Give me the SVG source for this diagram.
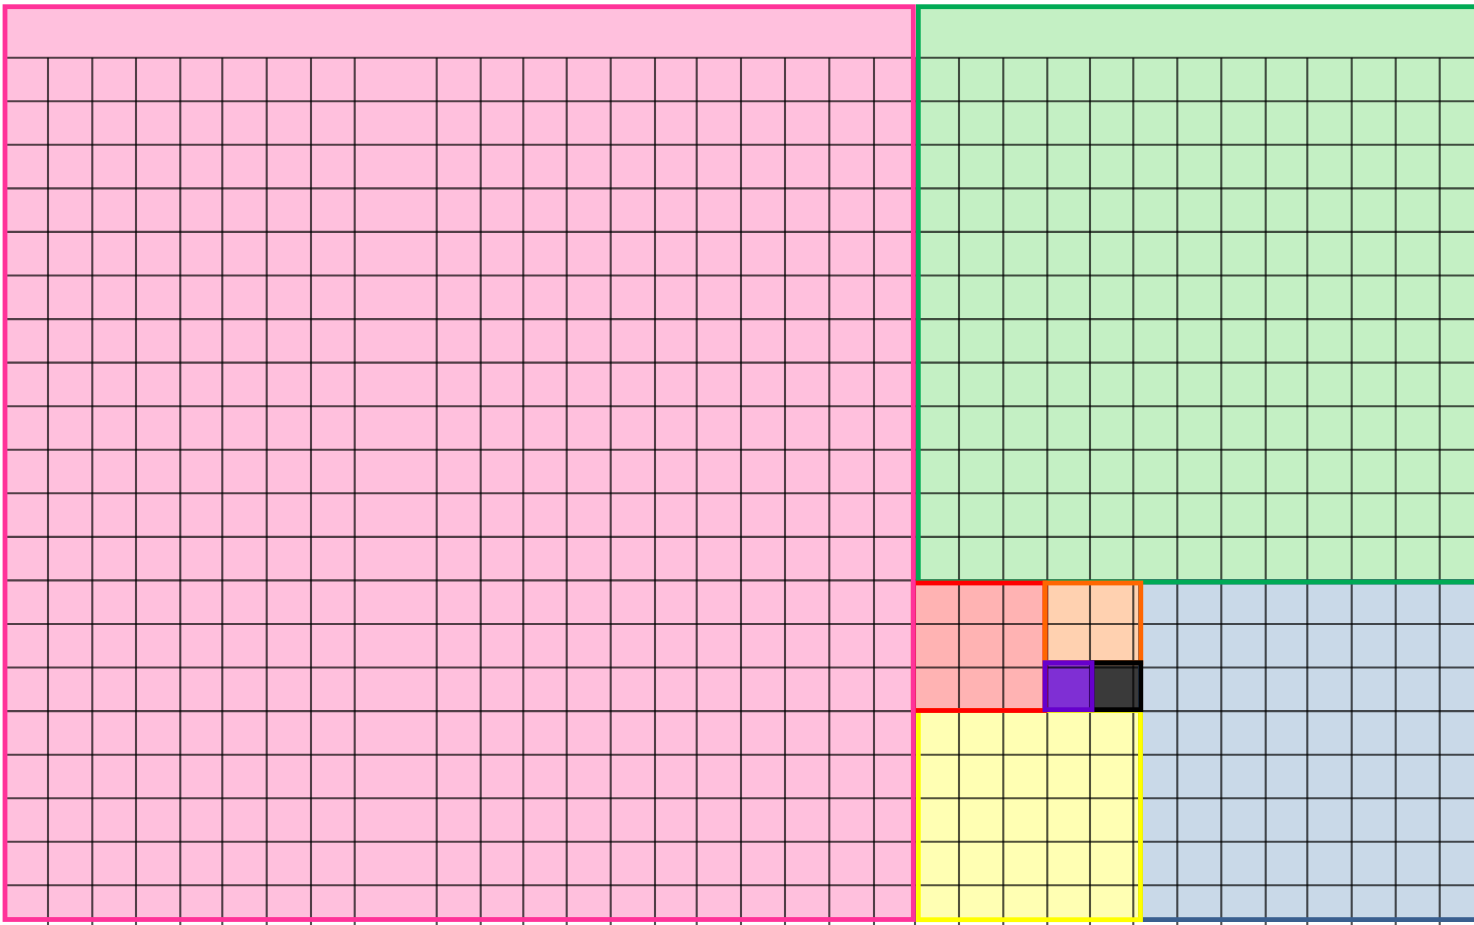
<svg xmlns="http://www.w3.org/2000/svg" width="1474" height="925" viewBox="0 0 1474 925">
<style>
.grid line{stroke:#000;stroke-opacity:0.68;stroke-width:2.1}
.outline{fill:none;stroke-width:4.8}
</style>
<rect width="1474" height="925" fill="#ffffff"/>
<g id="square-21"><rect x="5" y="6.7" width="908.3" height="912.8" fill="#ffc0dd"/></g>
<g id="square-13"><rect x="918.3" y="6.7" width="600" height="575.3" fill="#c4f0c4"/></g>
<g id="square-8"><rect x="1140.5" y="582" width="400" height="337.6" fill="#c9d9e8"/></g>
<g id="square-5"><rect x="918.3" y="710.5" width="222.2" height="209.2" fill="#ffffb3"/></g>
<g id="square-3"><rect x="913.3" y="583" width="131.7" height="127.5" fill="#ffb3b3"/></g>
<g id="square-2"><rect x="1045" y="583" width="95.8" height="79.7" fill="#ffd1b0"/></g>
<g id="square-1b"><rect x="1092" y="662.7" width="48.8" height="47" fill="#3a3a3a"/></g>
<g id="square-1a"><rect x="1045" y="662.7" width="47" height="47" fill="#7f2fd4"/></g>
<g id="connectors" class="grid">
<line x1="48" y1="57.7" x2="48" y2="925"/>
<line x1="92.3" y1="57.7" x2="92.3" y2="925"/>
<line x1="136" y1="57.7" x2="136" y2="925"/>
<line x1="180.3" y1="57.7" x2="180.3" y2="925"/>
<line x1="222.3" y1="57.7" x2="222.3" y2="925"/>
<line x1="266.7" y1="57.7" x2="266.7" y2="925"/>
<line x1="311" y1="57.7" x2="311" y2="925"/>
<line x1="354.7" y1="57.7" x2="354.7" y2="925"/>
<line x1="436.7" y1="57.7" x2="436.7" y2="925"/>
<line x1="480.7" y1="57.7" x2="480.7" y2="925"/>
<line x1="523.3" y1="57.7" x2="523.3" y2="925"/>
<line x1="566.7" y1="57.7" x2="566.7" y2="925"/>
<line x1="610.7" y1="57.7" x2="610.7" y2="925"/>
<line x1="655" y1="57.7" x2="655" y2="925"/>
<line x1="696.7" y1="57.7" x2="696.7" y2="925"/>
<line x1="741" y1="57.7" x2="741" y2="925"/>
<line x1="785" y1="57.7" x2="785" y2="925"/>
<line x1="829.3" y1="57.7" x2="829.3" y2="925"/>
<line x1="874" y1="57.7" x2="874" y2="925"/>
<line x1="915" y1="57.7" x2="915" y2="925"/>
<line x1="959" y1="57.7" x2="959" y2="925"/>
<line x1="1003.3" y1="57.7" x2="1003.3" y2="925"/>
<line x1="1047.3" y1="57.7" x2="1047.3" y2="925"/>
<line x1="1090" y1="57.7" x2="1090" y2="925"/>
<line x1="1133.3" y1="57.7" x2="1133.3" y2="925"/>
<line x1="1177.3" y1="57.7" x2="1177.3" y2="925"/>
<line x1="1221.3" y1="57.7" x2="1221.3" y2="925"/>
<line x1="1265.7" y1="57.7" x2="1265.7" y2="925"/>
<line x1="1307.3" y1="57.7" x2="1307.3" y2="925"/>
<line x1="1351.7" y1="57.7" x2="1351.7" y2="925"/>
<line x1="1395.7" y1="57.7" x2="1395.7" y2="925"/>
<line x1="1439.7" y1="57.7" x2="1439.7" y2="925"/>
<line x1="5" y1="57.7" x2="1474" y2="57.7"/>
<line x1="5" y1="101.3" x2="1474" y2="101.3"/>
<line x1="5" y1="144.8" x2="1474" y2="144.8"/>
<line x1="5" y1="188.4" x2="1474" y2="188.4"/>
<line x1="5" y1="231.9" x2="1474" y2="231.9"/>
<line x1="5" y1="275.5" x2="1474" y2="275.5"/>
<line x1="5" y1="319.1" x2="1474" y2="319.1"/>
<line x1="5" y1="362.6" x2="1474" y2="362.6"/>
<line x1="5" y1="406.2" x2="1474" y2="406.2"/>
<line x1="5" y1="449.7" x2="1474" y2="449.7"/>
<line x1="5" y1="493.3" x2="1474" y2="493.3"/>
<line x1="5" y1="536.9" x2="1474" y2="536.9"/>
<line x1="5" y1="580.4" x2="1474" y2="580.4"/>
<line x1="5" y1="624" x2="1474" y2="624"/>
<line x1="5" y1="667.5" x2="1474" y2="667.5"/>
<line x1="5" y1="711.1" x2="1474" y2="711.1"/>
<line x1="5" y1="754.7" x2="1474" y2="754.7"/>
<line x1="5" y1="798.2" x2="1474" y2="798.2"/>
<line x1="5" y1="841.8" x2="1474" y2="841.8"/>
<line x1="5" y1="885.3" x2="1474" y2="885.3"/>
</g>
<g id="outlines">
<rect id="outline-8" class="outline" x="1140.5" y="582" width="400" height="337.6" stroke="#3a5f8f"/>
<rect id="outline-13" class="outline" x="918.3" y="6.7" width="600" height="575.3" stroke="#00aa55"/>
<rect id="outline-5" class="outline" x="918.3" y="710.5" width="222.2" height="209.2" stroke="#ffff00"/>
<rect id="outline-3" class="outline" x="913.3" y="583" width="131.7" height="127.5" stroke="#ff0000"/>
<rect id="outline-2" class="outline" x="1045" y="583" width="95.8" height="79.7" stroke="#ff6600"/>
<rect id="outline-1b" class="outline" x="1092" y="662.7" width="48.8" height="47" stroke="#000000"/>
<rect id="outline-1a" class="outline" x="1045" y="662.7" width="47" height="47" stroke="#6600cc"/>
<rect id="outline-21" class="outline" x="5" y="6.7" width="908.3" height="912.8" stroke="#ff3399"/>
</g>
</svg>
